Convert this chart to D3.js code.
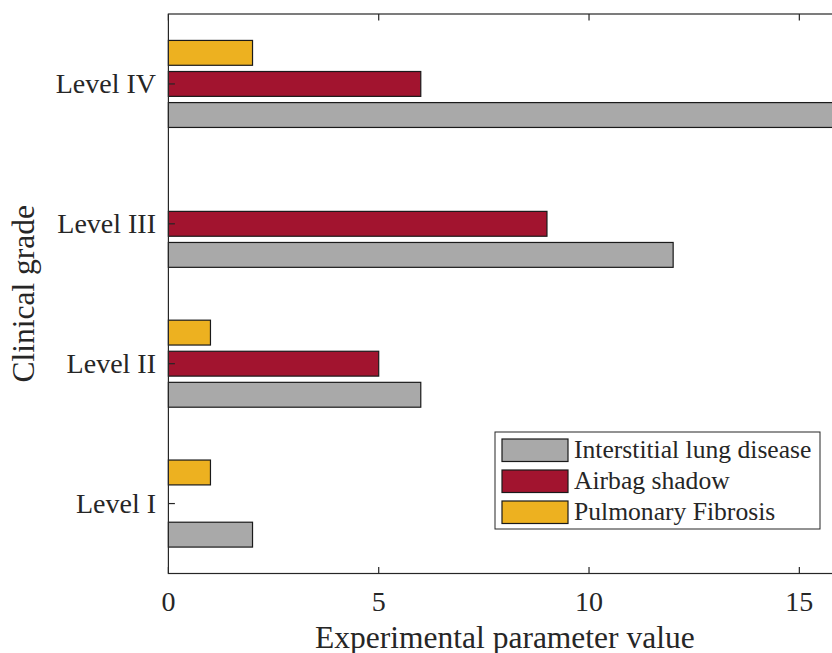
<!DOCTYPE html>
<html><head><meta charset="utf-8">
<script src="https://cdn.jsdelivr.net/npm/d3@7"></script>
<style>body{margin:0;background:#fff}svg{display:block}text{font-family:"Liberation Serif","Times New Roman",serif;fill:#262626}</style>
</head><body><svg id="c" width="832" height="653"></svg>
<script>
const categories = ["Level I", "Level II", "Level III", "Level IV"];
const seriesNames = ["Interstitial lung disease", "Airbag shadow", "Pulmonary Fibrosis"];
const interstitial = [2, 6, 12, 16];
const airbag = [0, 5, 9, 6];
const fibrosis = [1, 1, 0, 2];
const colors = ["#A9A9A9", "#A2142F", "#EDB120"];
const xTicks = [0, 5, 10, 15];
const series = [interstitial, airbag, fibrosis];

const svg = d3.select("#c");
const L = 168.4, R = 841.4, T = 14, B = 573.5;
const x = d3.scaleLinear().domain([0, 16]).range([L, R]);
const y = d3.scaleLinear().domain([0.5, 4.5]).range([B, T]);
const catStep = (B - T) / 4;
const slot = catStep * (3 / 4.5) / 3;
const barH = slot * 0.8;

const g = svg.append("g");
series.forEach((vals, si) => {
  g.selectAll(null).data(vals).enter().append("rect")
    .attr("x", x(0))
    .attr("width", d => Math.max(0, x(d) - x(0)))
    .attr("y", (d, i) => y(i + 1) - (si - 1) * slot - barH / 2)
    .attr("height", barH)
    .attr("fill", colors[si])
    .attr("stroke", d => d > 0 ? "#1a1a1a" : "none")
    .attr("stroke-width", 1.2);
});

// box
const ax = svg.append("g").attr("stroke", "#262626").attr("stroke-width", 1.2).attr("fill", "none");
ax.append("rect").attr("x", L).attr("y", T).attr("width", R - L).attr("height", B - T);
xTicks.forEach(t => {
  ax.append("line").attr("x1", x(t)).attr("x2", x(t)).attr("y1", B).attr("y2", B - 6.5);
  ax.append("line").attr("x1", x(t)).attr("x2", x(t)).attr("y1", T).attr("y2", T + 6.5);
});
categories.forEach((c, i) => {
  ax.append("line").attr("x1", L).attr("x2", L + 6.5).attr("y1", y(i + 1)).attr("y2", y(i + 1));
  ax.append("line").attr("x1", R).attr("x2", R - 6.5).attr("y1", y(i + 1)).attr("y2", y(i + 1));
});

// tick labels
svg.selectAll(null).data(xTicks).enter().append("text")
  .attr("x", d => x(d)).attr("y", 611).attr("text-anchor", "middle")
  .attr("font-size", 28).text(d => d);
svg.selectAll(null).data(categories).enter().append("text")
  .attr("x", 156).attr("y", (d, i) => y(i + 1) + 9.5).attr("text-anchor", "end")
  .attr("font-size", 28).text(d => d);

// axis labels
svg.append("text").attr("x", (L + R) / 2).attr("y", 648).attr("text-anchor", "middle")
  .attr("font-size", 31.5).text("Experimental parameter value");
svg.append("text").attr("transform", `translate(34,${(T + B) / 2}) rotate(-90)`)
  .attr("text-anchor", "middle").attr("font-size", 31.5).text("Clinical grade");

// legend
const lg = svg.append("g");
lg.append("rect").attr("x", 495).attr("y", 432).attr("width", 325).attr("height", 97)
  .attr("fill", "#fff").attr("stroke", "#262626").attr("stroke-width", 1);
seriesNames.forEach((n, i) => {
  const yy = 439 + i * 31;
  lg.append("rect").attr("x", 502).attr("y", yy).attr("width", 66).attr("height", 22.5)
    .attr("fill", colors[i]).attr("stroke", "#1a1a1a").attr("stroke-width", 1.2);
  lg.append("text").attr("x", 574).attr("y", yy + 19).attr("font-size", 25.6).text(n);
});
</script></body></html>
